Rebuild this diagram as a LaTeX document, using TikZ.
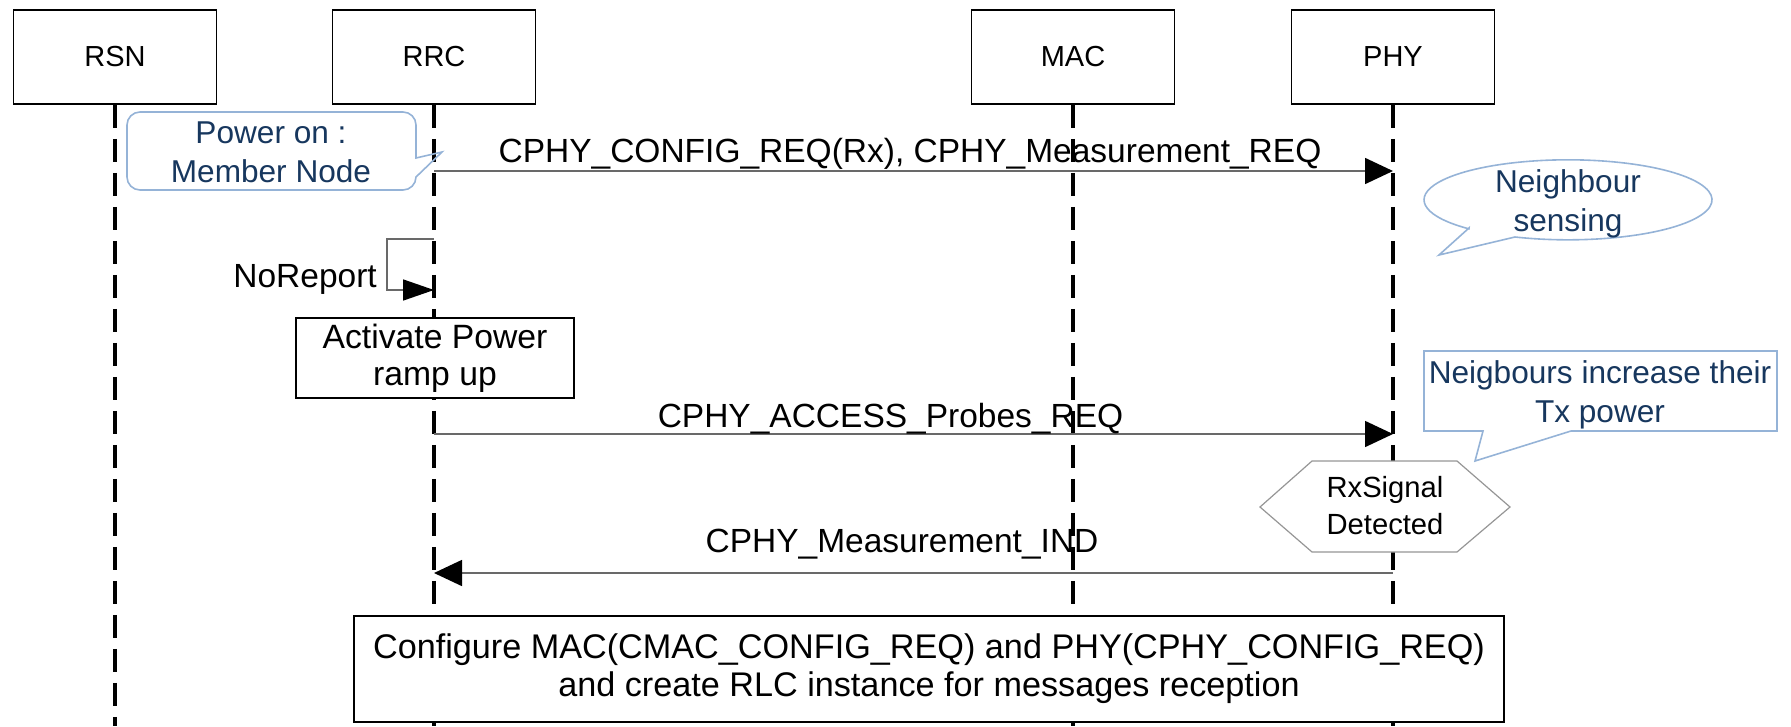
\documentclass[tikz,border=0pt]{standalone}
\usepackage{fontspec}
\setmainfont{Liberation Sans}
\usetikzlibrary{arrows.meta}
\definecolor{calloutline}{RGB}{149,179,215}
\definecolor{callouttext}{RGB}{23,55,94}
\definecolor{msgline}{RGB}{105,105,105}
\definecolor{hexline}{RGB}{150,150,150}
\tikzset{
  head/.style={draw=black, line width=1.8pt, minimum width=203pt, minimum height=94pt,
    inner sep=0pt, font=\fontsize{29}{34}\selectfont},
  lifeline/.style={line width=4pt, dash pattern=on 23pt off 11pt},
  msgarrow/.style={draw=msgline, line width=1.6pt, -{Triangle[length=28pt,width=26pt,black]}},
  loopline/.style={draw=msgline, line width=1.6pt, -{Triangle[length=31pt,width=21pt,black]}},
  msglabel/.style={anchor=base, inner sep=0pt, font=\fontsize{33.5}{38}\selectfont},
  procbox/.style={draw=black, fill=white, line width=2.6pt, inner sep=0pt, align=center},
  callout/.style={draw=calloutline, line width=1.6pt},
  callouttxt/.style={text=callouttext, align=center, inner sep=0pt,
    font=\fontsize{31.6}{39}\selectfont},
  eventtxt/.style={align=center, inner sep=0pt, font=\fontsize{29.2}{37}\selectfont},
}
\begin{document}
\begin{tikzpicture}[x=1pt,y=-1pt]
\useasboundingbox (0,0) rectangle (1791,726);

% entity heads and their lifelines
\node[head] (rsn) at (115,57) {RSN};
\node[head] (rrc) at (434,57) {RRC};
\node[head] (mac) at (1073,57) {MAC};
\node[head] (phy) at (1393,57) {PHY};
\coordinate (floor) at (0,726);
\foreach \n in {rsn,rrc,mac,phy}
  \draw[lifeline] (\n.south) -- (\n.south |- floor);

% message rows
\coordinate (r1) at (0,171);
\coordinate (r2) at (0,434);
\coordinate (r3) at (0,573);
\coordinate (loopin) at (0,239);
\coordinate (loopout) at (0,290);

% "Power on" callout pointing at RRC
\draw[callout] (140,112) -- (403,112) arc[start angle=270,end angle=360,radius=13]
  -- (416,158) -- (442,152) -- (416,177) arc[start angle=0,end angle=90,radius=13]
  -- (140,190) arc[start angle=90,end angle=180,radius=13]
  -- (127,125) arc[start angle=180,end angle=270,radius=13] -- cycle;
\node[callouttxt] (poweron) at (271,152.5) {Power on :\\Member Node};

% first request
\draw[msgarrow] (rrc |- r1) -- (phy |- r1);
\node[msglabel] (l1) at (910,162) {CPHY\_CONFIG\_REQ(Rx), CPHY\_Measurement\_REQ};

% "Neighbour sensing" speech bubble
\draw[callout] (1469,228) -- (1439,255) -- (1515,237)
  arc[start angle=111.6,end angle=-226.5,x radius=144,y radius=40] -- cycle;
\node[callouttxt] (sensing) at (1568,204) {Neighbour\\sensing};

% self message on RRC
\draw[loopline] (rrc |- loopin) -- (387,239) -- (387,290) -- (rrc |- loopout);
\node[msglabel, anchor=base east] (noreport) at (377,287) {NoReport};

% power ramp action
\node[procbox, minimum width=278pt, minimum height=80pt,
  font=\fontsize{33.7}{37}\selectfont] (ramp) at (435,358) {Activate Power\\ramp up};

% access probes
\draw[msgarrow] (rrc |- r2) -- (phy |- r2);
\node[msglabel] (l2) at (890.5,427) {CPHY\_ACCESS\_Probes\_REQ};

% "Neigbours increase their Tx power" callout
\draw[callout] (1424,351) -- (1777,351) -- (1777,431) -- (1571,431) -- (1475,461)
  -- (1483,431) -- (1424,431) -- cycle;
\node[callouttxt] (txpower) at (1600,395) {Neigbours increase their\\Tx power};

% detection event on PHY
\draw[draw=hexline, fill=white, line width=1.2pt] (1260,507) -- (1312,461) -- (1457,461)
  -- (1510,507) -- (1457,552) -- (1312,552) -- cycle;
\node[eventtxt] (rxsig) at (1385,505.5) {RxSignal\\Detected};

% measurement indication back to RRC
\draw[msgarrow] (phy |- r3) -- (rrc |- r3);
\node[msglabel] (l3) at (902,552) {CPHY\_Measurement\_IND};

% final configuration step
\node[procbox, minimum width=1150pt, minimum height=106pt,
  font=\fontsize{34.2}{38}\selectfont] (config) at (929,669)
  {Configure MAC(CMAC\_CONFIG\_REQ) and PHY(CPHY\_CONFIG\_REQ)\\and create RLC instance for messages reception};
\end{tikzpicture}
\end{document}
